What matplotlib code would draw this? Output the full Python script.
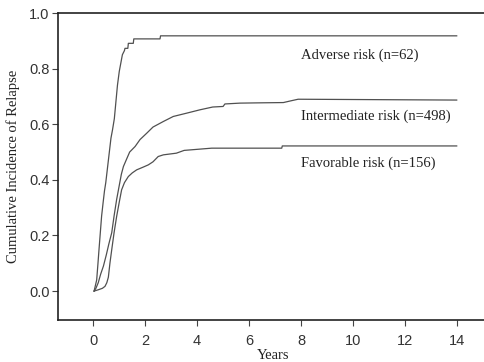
import numpy as np
import matplotlib
matplotlib.use('Agg')
import matplotlib.pyplot as plt

# cumulative incidence of relapse
adv_t = [0.03, 0.08, 0.13, 0.18, 0.22, 0.27, 0.32, 0.38, 0.43, 0.48, 0.53, 0.58, 0.63,
         0.68, 0.74, 0.81, 0.87, 0.93, 1.00, 1.06, 1.12, 1.20, 1.22, 1.33, 1.35, 1.54,
         1.56, 2.57, 2.59, 14.0]
adv_v = [0.0, 0.02, 0.04, 0.10, 0.15, 0.21, 0.27, 0.32, 0.36, 0.39, 0.43, 0.47, 0.51,
         0.55, 0.58, 0.62, 0.68, 0.74, 0.79, 0.82, 0.85, 0.865, 0.873, 0.873, 0.891,
         0.891, 0.907, 0.907, 0.918, 0.918]

int_t = [0.03, 0.10, 0.19, 0.28, 0.39, 0.50, 0.60, 0.71, 0.80, 0.90, 1.00, 1.08, 1.16,
         1.27, 1.40, 1.61, 1.80, 2.06, 2.30, 2.70, 3.08, 3.60, 4.11, 4.60, 5.00, 5.07,
         5.65, 6.40, 7.32, 7.60, 7.89, 14.0]
int_v = [0.0, 0.01, 0.03, 0.06, 0.09, 0.13, 0.17, 0.21, 0.27, 0.33, 0.38, 0.42, 0.448,
         0.472, 0.50, 0.52, 0.545, 0.568, 0.59, 0.61, 0.628, 0.64, 0.652, 0.662, 0.664,
         0.673, 0.676, 0.677, 0.678, 0.684, 0.690, 0.687]

fav_t = [0.03, 0.20, 0.35, 0.45, 0.52, 0.58, 0.64, 0.71, 0.80, 0.90, 1.00, 1.09, 1.20,
         1.35, 1.50, 1.67, 1.90, 2.12, 2.30, 2.50, 2.70, 3.20, 3.50, 4.56, 7.26, 7.28, 14.0]
fav_v = [0.0, 0.005, 0.01, 0.017, 0.03, 0.05, 0.10, 0.149, 0.21, 0.269, 0.32, 0.364,
         0.39, 0.412, 0.425, 0.436, 0.445, 0.454, 0.465, 0.484, 0.49, 0.496, 0.506,
         0.514, 0.514, 0.522, 0.522]

labels = ['Adverse risk (n=62)', 'Intermediate risk (n=498)', 'Favorable risk (n=156)']
label_y = [0.849, 0.630, 0.461]

serif = 'Liberation Serif'

fig = plt.figure(figsize=(4.85, 3.62), dpi=100)
ax = fig.add_axes([0.1196, 0.116, 0.8804, 0.848])

for t, v in [(adv_t, adv_v), (int_t, int_v), (fav_t, fav_v)]:
    ax.plot(t, v, color='#505050', lw=0.9)

for lab, y in zip(labels, label_y):
    ax.text(8.0, y, lab, family=serif, fontsize=10.5, color='#222222',
            ha='left', va='center')

ax.set_xlim(-1.36, 15.09)
ax.set_ylim(-0.104, 1.0)
ax.set_xticks(np.arange(0, 15, 2))
ax.set_yticks([0.0, 0.2, 0.4, 0.6, 0.8, 1.0])
ax.set_yticklabels(['0.0', '0.2', '0.4', '0.6', '0.8', '1.0'])
ax.spines['right'].set_visible(False)
for s in ['left', 'bottom', 'top']:
    ax.spines[s].set_linewidth(1.2)
    ax.spines[s].set_color('#222222')

ax.tick_params(direction='out', length=4, width=0.8, color='#444444',
               labelsize=10.5, labelcolor='#333333')
ax.tick_params(axis='x', pad=6)
ax.tick_params(axis='y', pad=2)
for lbl in ax.get_xticklabels() + ax.get_yticklabels():
    lbl.set_family('Liberation Sans')

ax.set_xlabel('Years', family=serif, fontsize=10.5, color='#222222', labelpad=0)
ax.xaxis.set_label_coords(0.503, -0.096)
ax.set_ylabel('Cumulative Incidence of Relapse', family=serif, fontsize=10.5,
              color='#222222')
ax.yaxis.set_label_coords(-0.09, 0.5)

fig.savefig('out.png', dpi=100)
